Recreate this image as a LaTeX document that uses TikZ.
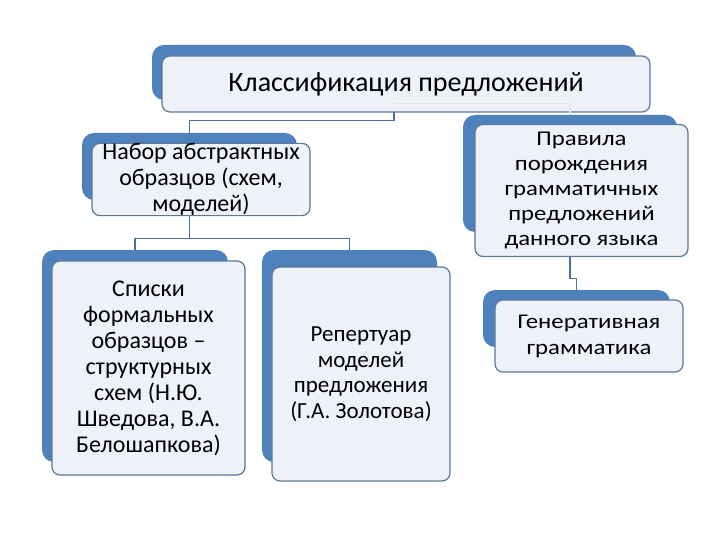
\documentclass[tikz,border=0pt]{standalone}
\usepackage{fontspec}
\setmainfont{Carlito}
\newfontfamily\widefont[FakeStretch=1.18]{Carlito}
\usetikzlibrary{calc}

\definecolor{backblue}{HTML}{4F81BD}
\definecolor{frontfill}{HTML}{EEF1F7}
\definecolor{frontline}{HTML}{5B7899}
\definecolor{linkline}{HTML}{4A6E96}

\tikzset{
  backbox/.style={shape=rectangle,rounded corners=12pt,fill=backblue,inner sep=0pt},
  frontbox/.style={shape=rectangle,rounded corners=8pt,fill=frontfill,draw=frontline,
    line width=1.2pt,inner sep=0pt,align=center,font=\fontsize{24}{26}\selectfont},
  link/.style={draw=linkline,line width=1.2pt},
  ghostlink/.style={draw=gray!20,line width=1.2pt}
}

\begin{document}
\begin{tikzpicture}[x=1pt,y=-1pt]
  \useasboundingbox[fill=white] (0,0) rectangle (720,540);

  \node[backbox,minimum width=484pt,minimum height=55pt] (titleb) at (394,72.5) {};
  \node[backbox,minimum width=215pt,minimum height=67pt] (naborb) at (189.5,166.5) {};
  \node[backbox,minimum width=186pt,minimum height=212pt] (spiskib) at (135,356) {};
  \node[backbox,minimum width=175pt,minimum height=212pt] (reperb) at (349.5,356) {};
  \node[backbox,minimum width=214pt,minimum height=117pt] (pravb) at (570,173.5) {};
  \node[backbox,minimum width=187pt,minimum height=57pt] (genb) at (576.5,318.5) {};

  \path[link] (titleb.south) -- ++(0,20) -| (naborb.north);
  \path[link] (naborb.south) -- ++(0,38) coordinate (nj);
  \path[link] ($(nj)+(-54,0)$) -- ($(nj)+(160,0)$);
  \path[link] (nj -| spiskib.north) -- (spiskib.north);
  \path[link] (nj -| reperb.north) -- (reperb.north);
  \path[link] (pravb.south) -- ++(0,46) -| (genb.north);

  \node[frontbox,minimum width=488pt,minimum height=56pt,font=\fontsize{28}{30}\selectfont] (title) at (406,84) {Классификация предложений};
  \node[frontbox,minimum width=218pt,minimum height=71pt] (nabor) at (201,179.5) {Набор абстрактных\\образцов (схем,\\моделей)};
  \node[frontbox,minimum width=193pt,minimum height=214pt] (spiski) at (148.5,368) {Списки\\формальных\\образцов --\\структурных\\схем (Н.Ю.\\Шведова, В.А.\\Белошапкова)};
  \node[frontbox,minimum width=178pt,minimum height=214pt,font=\fontsize{23}{25.5}\selectfont] (reper) at (361,374) {Репертуар\\моделей\\предложения\\(Г.А. Золотова)};
  \node[frontbox,minimum width=213pt,minimum height=132pt,font=\widefont\fontsize{21}{25}\selectfont] (prav) at (581.5,190.5) {Правила\\порождения\\грамматичных\\предложений\\данного языка};
  \node[frontbox,minimum width=188pt,minimum height=72pt,font=\widefont\fontsize{21}{26}\selectfont] (gen) at (589,336) {Генеративная\\грамматика};

  \path[ghostlink] (titleb.south) ++(0,3) -| (pravb.north);

\end{tikzpicture}
\end{document}
